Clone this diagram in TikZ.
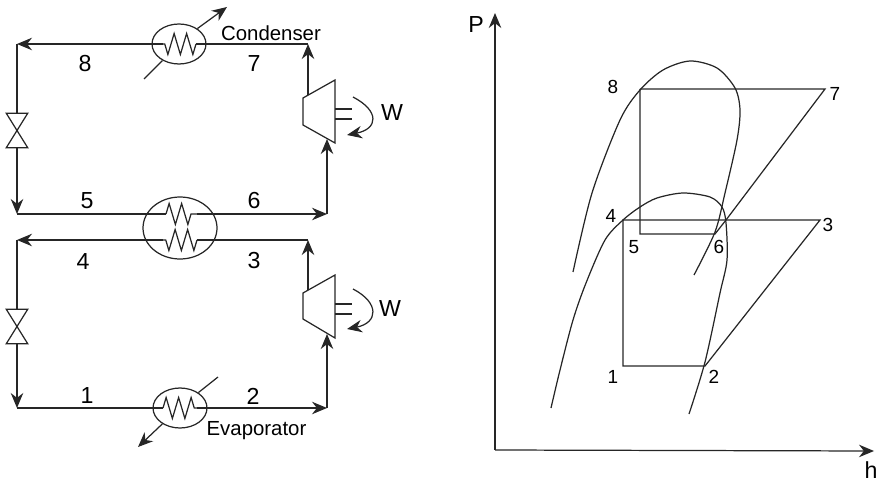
\documentclass[tikz,border=0pt]{standalone}
\usepackage{fontspec}
\setmainfont{Liberation Sans}
\usetikzlibrary{arrows.meta,shapes.geometric,decorations.pathmorphing}
\tikzset{
  pipe/.style={line width=0.35pt, black!85},
  flow/.style={pipe, -{Stealth[length=1.5mm,width=1.25mm]}},
  coil/.style={pipe, decorate, decoration={zigzag, segment length=1.25mm, amplitude=1.05mm}},
  hx/.style={draw, ellipse, pipe, inner sep=0pt},
  valve/.style={inner sep=0pt, minimum width=0.2cm, minimum height=0.33cm},
  big/.style={font=\fontsize{6.6}{7}\selectfont, inner sep=0pt},
  small/.style={font=\fontsize{5.4}{6}\selectfont, inner sep=0pt},
  word/.style={font=\fontsize{5.8}{6}\selectfont, inner sep=0pt}
}
\begin{document}
\begin{tikzpicture}

\useasboundingbox (0,0) rectangle (8.78,4.79);

\node[hx, minimum width=0.54cm, minimum height=0.4cm] (C) at (1.79, 4.35) {};
\node[hx, minimum width=0.74cm, minimum height=0.62cm] (X) at (1.80, 2.51) {};
\node[hx, minimum width=0.54cm, minimum height=0.4cm] (E) at (1.80, 0.71) {};
\node[valve] (V1) at (0.17, 3.485) {};
\node[valve] (V2) at (0.17, 1.525) {};

\coordinate (TL) at (0.17, 4.35);
\coordinate (TR) at (3.08, 4.35);
\coordinate (UL) at (0.17, 2.65);
\coordinate (UR) at (3.27, 2.65);
\coordinate (ML) at (0.17, 2.39);
\coordinate (MR) at (3.08, 2.39);
\coordinate (BL) at (0.17, 0.71);
\coordinate (BR) at (3.27, 0.71);

\coordinate (C1) at (1.63, 4.35);
\coordinate (C2) at (1.96, 4.35);
\coordinate (X1) at (1.66, 2.65);
\coordinate (X2) at (1.97, 2.65);
\coordinate (X3) at (1.63, 2.39);
\coordinate (X4) at (1.97, 2.39);
\coordinate (E1) at (1.63, 0.71);
\coordinate (E2) at (1.97, 0.71);

\coordinate (Ca) at (1.44, 4.00);
\coordinate (Cb) at (2.27, 4.72);
\coordinate (Ea) at (2.18, 1.02);
\coordinate (Eb) at (1.38, 0.32);

\coordinate (K1a) at (3.03, 3.81);
\coordinate (K1b) at (3.35, 3.99);
\coordinate (K1c) at (3.35, 3.36);
\coordinate (K1d) at (3.03, 3.54);
\coordinate (K1o) at (3.08, 3.84);
\coordinate (K1i) at (3.27, 3.40);
\coordinate (K2a) at (3.03, 1.86);
\coordinate (K2b) at (3.35, 2.04);
\coordinate (K2c) at (3.35, 1.41);
\coordinate (K2d) at (3.03, 1.60);
\coordinate (K2o) at (3.08, 1.89);
\coordinate (K2i) at (3.27, 1.45);

\draw[pipe] (TR) -- (C2);
\draw[coil] (C2) -- (C1);
\draw[flow] (C1) -- (TL);
\draw[pipe] (TL) -- (V1.north);
\draw[flow] (V1.south) -- (UL);
\draw[pipe] (UL) -- (X1);
\draw[coil] (X1) -- (X2);
\draw[flow] (X2) -- (UR);
\draw[flow] (UR) -- (K1i);
\draw[flow] (K1o) -- (TR);

\draw[pipe] (MR) -- (X4);
\draw[coil] (X4) -- (X3);
\draw[flow] (X3) -- (ML);
\draw[pipe] (ML) -- (V2.north);
\draw[flow] (V2.south) -- (BL);
\draw[pipe] (BL) -- (E1);
\draw[coil] (E1) -- (E2);
\draw[flow] (E2) -- (BR);
\draw[flow] (BR) -- (K2i);
\draw[flow] (K2o) -- (MR);

\draw[pipe] (V1.north west) -- (V1.north east) -- (V1.south west) -- (V1.south east) -- cycle;
\draw[pipe] (V2.north west) -- (V2.north east) -- (V2.south west) -- (V2.south east) -- cycle;
\draw[pipe] (K1a) -- (K1b) -- (K1c) -- (K1d) -- cycle;
\draw[pipe] (K2a) -- (K2b) -- (K2c) -- (K2d) -- cycle;

\draw[pipe] (3.35, 3.70) -- (3.52, 3.70);
\draw[pipe] (3.35, 3.60) -- (3.52, 3.60);
\draw[pipe] (3.35, 1.75) -- (3.52, 1.75);
\draw[pipe] (3.35, 1.65) -- (3.52, 1.65);
\draw[flow] (3.53, 3.82) .. controls (3.80, 3.68) and (3.78, 3.50) .. (3.47, 3.44);
\draw[flow] (3.53, 1.90) .. controls (3.80, 1.76) and (3.78, 1.56) .. (3.47, 1.50);

\draw[pipe] (Ca) -- (C.225);
\draw[flow] (C.40) -- (Cb);
\draw[pipe] (Ea) -- (E.40);
\draw[flow] (E.222) -- (Eb);

\node[word] (condenser) at (2.71, 4.46) {Condenser};
\node[word] (evaporator) at (2.565, 0.48) {Evaporator};
\node[big] (w1) at (3.92, 3.66) {W};
\node[big] (w2) at (3.90, 1.70) {W};

\node[big] (a8) at (0.85, 4.15) {8};
\node[big] (a7) at (2.54, 4.15) {7};
\node[big] (a5) at (0.87, 2.78) {5};
\node[big] (a6) at (2.54, 2.78) {6};
\node[big] (a4) at (0.83, 2.17) {4};
\node[big] (a3) at (2.54, 2.18) {3};
\node[big] (a1) at (0.87, 0.83) {1};
\node[big] (a2) at (2.53, 0.83) {2};

\coordinate (O) at (4.95, 0.29);
\coordinate (Pt) at (4.95, 4.66);
\coordinate (Ht) at (8.74, 0.28);
\draw[flow] (O) -- (Pt);
\draw[flow] (O) -- (Ht);
\node[big] (P) at (4.76, 4.54) {P};
\node[big] (h) at (8.71, 0.09) {h};

\draw[pipe] plot[smooth] coordinates {(5.73,2.07) (5.92,2.86) (6.20,3.59) (6.40,3.89) (6.63,4.09) (6.90,4.18) (7.17,4.11) (7.35,3.91) (7.40,3.69) (7.37,3.39) (7.25,2.86) (7.15,2.47) (6.94,2.04)};
\draw[pipe] plot[smooth] coordinates {(5.51,0.71) (5.60,1.09) (5.73,1.59) (5.86,1.96) (6.05,2.39) (6.23,2.59) (6.40,2.72) (6.57,2.81) (6.83,2.86) (7.10,2.82) (7.22,2.72) (7.26,2.56) (7.27,2.19) (7.20,1.86) (7.05,1.17) (6.89,0.65)};

\coordinate (p1) at (6.23, 1.13);
\coordinate (p2) at (7.05, 1.13);
\coordinate (p3) at (8.20, 2.59);
\coordinate (p4) at (6.23, 2.59);
\coordinate (p5) at (6.40, 2.45);
\coordinate (p6) at (7.15, 2.45);
\coordinate (p7) at (8.25, 3.90);
\coordinate (p8) at (6.40, 3.90);
\coordinate (p9) at (7.26, 2.59);

\draw[pipe] (p1) -- (p2) -- (p3) -- (p4) -- cycle;
\draw[pipe] (p8) -- (p7) -- (p9);
\draw[pipe] (p9) -- (p6) -- (p5) -- (p8);

\node[small] (b8) at (6.13, 3.92) {8};
\node[small] (b7) at (8.35, 3.85) {7};
\node[small] (b4) at (6.11, 2.63) {4};
\node[small] (b3) at (8.28, 2.54) {3};
\node[small] (b5) at (6.34, 2.32) {5};
\node[small] (b6) at (7.19, 2.32) {6};
\node[small] (b1) at (6.13, 1.02) {1};
\node[small] (b2) at (7.14, 1.02) {2};

\end{tikzpicture}
\end{document}
